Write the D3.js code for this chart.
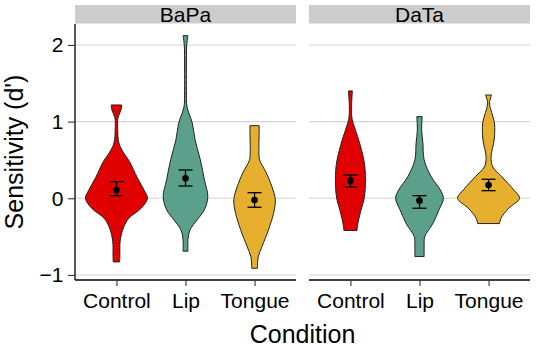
<!DOCTYPE html>
<html>
<head>
<meta charset="utf-8">
<script src="https://cdn.jsdelivr.net/npm/d3@7"></script>
<style>
  body { margin: 0; background: #fff; }
  svg text { font-family: "Liberation Sans", Arial, Helvetica, sans-serif; }
</style>
</head>
<body>
<svg id="chart" width="536" height="349"></svg>
<script>
// facets and conditions
const panels = ["BaPa", "DaTa"];
const conditions = ["Control", "Lip", "Tongue"];
const colors = ["#e10000", "#5ba08a", "#e6af2d"];
const yTicks = [-1, 0, 1, 2];

// violin profiles: d' value and relative density (1 = widest)
const bapaControlY = [1.217, 1.15, 1.05, 0.9, 0.72, 0.6, 0.48, 0.27, 0.1, 0, -0.13, -0.26, -0.39, -0.56, -0.74, -0.83];
const bapaControlD = [0.17, 0.145, 0.05, 0.04, 0.08, 0.22, 0.42, 0.67, 0.9, 1.0, 0.8, 0.4, 0.22, 0.12, 0.11, 0.105];
const bapaLipY = [2.12, 2.0, 1.7, 1.4, 1.19, 0.98, 0.76, 0.5, 0.24, 0.02, -0.15, -0.28, -0.41, -0.54, -0.69];
const bapaLipD = [0.08, 0.04, 0.03, 0.03, 0.05, 0.22, 0.31, 0.48, 0.61, 0.72, 0.61, 0.38, 0.15, 0.08, 0.08];
const bapaTongueY = [0.947, 0.8, 0.65, 0.5, 0.42, 0.33, 0.15, -0.02, -0.2, -0.41, -0.63, -0.76, -0.913];
const bapaTongueD = [0.15, 0.145, 0.14, 0.16, 0.26, 0.38, 0.56, 0.67, 0.61, 0.45, 0.24, 0.12, 0.09];
const dataControlY = [1.40, 1.25, 1.04, 0.91, 0.7, 0.43, 0.17, 0, -0.17, -0.35, -0.42];
const dataControlD = [0.065, 0.04, 0.05, 0.145, 0.31, 0.46, 0.48, 0.445, 0.33, 0.23, 0.21];
const dataLipY = [1.065, 0.89, 0.72, 0.5, 0.28, 0.11, 0, -0.15, -0.33, -0.5, -0.63, -0.76];
const dataLipD = [0.087, 0.07, 0.11, 0.15, 0.38, 0.67, 0.77, 0.63, 0.43, 0.17, 0.15, 0.15];
const dataTongueY = [1.347, 1.24, 0.98, 0.76, 0.54, 0.41, 0.28, 0.11, 0, -0.13, -0.26, -0.33];
const dataTongueD = [0.1, 0.03, 0.19, 0.18, 0.08, 0.135, 0.43, 0.81, 1.0, 0.65, 0.4, 0.35];

// means with error bars (lower / upper)
const bapaMean = [0.108, 0.26, -0.022];
const bapaLow = [0.034, 0.16, -0.117];
const bapaHigh = [0.217, 0.369, 0.073];
const dataMean = [0.23, -0.031, 0.173];
const dataLow = [0.147, -0.13, 0.099];
const dataHigh = [0.304, 0.034, 0.248];

const violins = [
  [[bapaControlY, bapaControlD], [bapaLipY, bapaLipD], [bapaTongueY, bapaTongueD]],
  [[dataControlY, dataControlD], [dataLipY, dataLipD], [dataTongueY, dataTongueD]]
];
const stats = [[bapaMean, bapaLow, bapaHigh], [dataMean, dataLow, dataHigh]];

const svg = d3.select("#chart");
const panelX = [[75, 296], [309, 530]];
const plotTop = 24, plotBottom = 280;

const y = d3.scaleLinear().domain([-1.066, 2.273]).range([plotBottom, plotTop]);
const w = d3.scaleLinear().domain([0, 1]).range([0, 31]);

panels.forEach((name, p) => {
  const x = d3.scalePoint().domain(conditions).range(panelX[p]).padding(0.6);
  const g = svg.append("g");

  // strip
  g.append("rect")
    .attr("x", panelX[p][0]).attr("y", 5)
    .attr("width", panelX[p][1] - panelX[p][0]).attr("height", 18.5)
    .attr("fill", "#cccccc");
  g.append("text")
    .attr("x", (panelX[p][0] + panelX[p][1]) / 2).attr("y", 21.5)
    .attr("text-anchor", "middle").attr("font-size", 21)
    .text(name);

  // grid
  g.selectAll(".grid").data(yTicks).enter().append("line")
    .attr("x1", panelX[p][0]).attr("x2", panelX[p][1])
    .attr("y1", d => y(d)).attr("y2", d => y(d))
    .attr("stroke", "#d4d4d4").attr("stroke-width", 1.1);

  // violins
  conditions.forEach((c, i) => {
    const [vals, dens] = violins[p][i];
    const pts = vals.map((v, k) => ({ v: v, d: dens[k] }));
    const area = d3.area()
      .y(d => y(d.v))
      .x0(d => x(c) - w(d.d))
      .x1(d => x(c) + w(d.d))
      .curve(d3.curveCatmullRom.alpha(0.5));
    g.append("path")
      .attr("d", area(pts))
      .attr("fill", colors[i])
      .attr("stroke", "#222").attr("stroke-width", 1);

    const [m, lo, hi] = stats[p].map(a => a[i]);
    const cx = x(c);
    g.append("line").attr("x1", cx).attr("x2", cx)
      .attr("y1", y(lo)).attr("y2", y(hi))
      .attr("stroke", "#000").attr("stroke-width", 1.3);
    [lo, hi].forEach(v => {
      g.append("line").attr("x1", cx - 7).attr("x2", cx + 7)
        .attr("y1", y(v)).attr("y2", y(v))
        .attr("stroke", "#000").attr("stroke-width", 1.3);
    });
    g.append("circle").attr("cx", cx).attr("cy", y(m)).attr("r", 3.3).attr("fill", "#000");
  });

  // x axis
  const xAxis = g.append("g").attr("transform", `translate(0,${plotBottom})`)
    .call(d3.axisBottom(x).tickSize(6).tickPadding(7));
  xAxis.select(".domain").attr("stroke", "#000").attr("stroke-width", 1.3)
    .attr("d", `M${panelX[p][0]},0H${panelX[p][1]}`);
  xAxis.selectAll(".tick line").attr("stroke", "#333").attr("stroke-width", 1.1);
  xAxis.selectAll(".tick text").attr("font-size", 21).attr("fill", "#000")
    .attr("font-family", "Liberation Sans, Arial, sans-serif");

  // y axis only on first panel
  if (p === 0) {
    const yAxis = g.append("g").attr("transform", `translate(${panelX[0][0]},0)`)
      .call(d3.axisLeft(y).tickValues(yTicks).tickFormat(d3.format("d")).tickSize(7).tickPadding(4.5));
    yAxis.select(".domain").attr("stroke", "#000").attr("stroke-width", 1.3)
      .attr("d", `M0,${plotTop}V${plotBottom}`);
    yAxis.selectAll(".tick line").attr("stroke", "#333").attr("stroke-width", 1.1);
    yAxis.selectAll(".tick text").attr("font-size", 21).attr("fill", "#000")
      .attr("font-family", "Liberation Sans, Arial, sans-serif");
  }
});

// axis titles
svg.append("text")
  .attr("x", 302.5).attr("y", 343)
  .attr("text-anchor", "middle").attr("font-size", 25)
  .text("Condition");
svg.append("text")
  .attr("transform", "translate(23,152) rotate(-90)")
  .attr("text-anchor", "middle").attr("font-size", 25)
  .text("Sensitivity (d')");
</script>
</body>
</html>
